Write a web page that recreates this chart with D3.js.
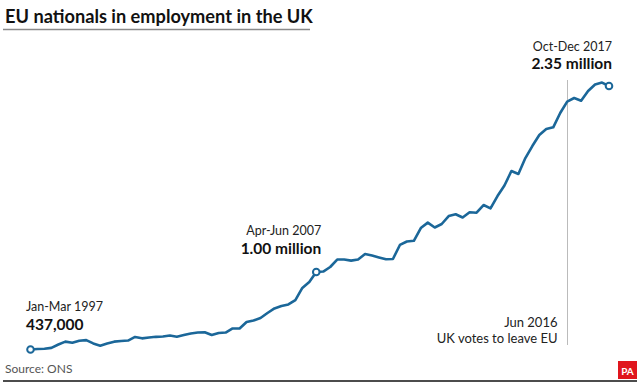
<!DOCTYPE html>
<html>
<head>
<meta charset="utf-8">
<script src="https://cdn.jsdelivr.net/npm/d3@7"></script>
<style>
  body { margin: 0; background: #fff; }
  svg { display: block; font-family: Lato, "Open Sans", sans-serif; }
</style>
</head>
<body>
<div id="chart"></div>
<script>
// EU nationals in UK employment, thousands, quarterly Jan-Mar 1997 .. Oct-Dec 2017
const startYear = 1997;
const values = [
  437, 441, 442, 449, 473, 494, 486, 501, 505, 481,
  465, 481, 494, 499, 502, 528, 518, 524, 529, 531,
  539, 530, 542, 553, 560, 562, 542, 557, 560, 590,
  590, 637, 648, 666, 702, 735, 753, 764, 796, 884,
  927, 1000, 1003, 1036, 1090, 1090, 1082, 1090, 1130, 1119,
  1105, 1092, 1094, 1196, 1221, 1226, 1319, 1358, 1323, 1348,
  1406, 1419, 1395, 1433, 1430, 1486, 1461, 1551, 1628, 1733,
  1711, 1827, 1914, 1994, 2038, 2050, 2154, 2237, 2263, 2243,
  2314, 2361, 2375, 2350
];
const highlights = [
  { i: 0, period: "Jan-Mar 1997", label: "437,000", anchor: "start", dx: -4.5, dy: -20 },
  { i: 41, period: "Apr-Jun 2007", label: "1.00 million", anchor: "end", dx: 5, dy: -18 },
  { i: 83, period: "Oct-Dec 2017", label: "2.35 million", anchor: "end", dx: 3, dy: -17 }
];
const voteIndex = 77; // Apr-Jun 2016
const voteLines = ["Jun 2016", "UK votes to leave EU"];

const W = 640, H = 384;
const blue = "#1b6799";

const svg = d3.select("#chart").append("svg")
  .attr("width", W)
  .attr("height", H);

const x = d3.scaleLinear().domain([0, values.length - 1]).range([30.5, 609]);
const y = d3.scaleLinear().domain([437, 2350]).range([349.5, 86]);

// title
svg.append("text")
  .attr("x", 5).attr("y", 23)
  .style("font-size", "18.2px").style("font-weight", 700).style("fill", "#111")
  .text("EU nationals in employment in the UK");
svg.append("line")
  .attr("x1", 3).attr("x2", 310).attr("y1", 29.5).attr("y2", 29.5)
  .style("stroke", "#8a8a8a").style("stroke-width", 1.5);

// referendum marker
const vx = Math.round(x(voteIndex)) + 0.5;
svg.append("line")
  .attr("x1", vx).attr("x2", vx).attr("y1", 80).attr("y2", 345)
  .style("stroke", "#bbb").style("stroke-width", 1);
svg.append("g").selectAll("text")
  .data(voteLines)
  .enter().append("text")
  .attr("x", vx - 10)
  .attr("y", (d, i) => 327 + i * 16)
  .attr("text-anchor", "end")
  .style("font-size", "13px").style("fill", "#222")
  .text(d => d);

// line
const line = d3.line()
  .x((d, i) => x(i))
  .y(d => y(d));
svg.append("path")
  .datum(values)
  .attr("d", line)
  .style("fill", "none")
  .style("stroke", blue)
  .style("stroke-width", 2.6)
  .style("stroke-linejoin", "round");

// highlighted points
const hl = svg.append("g").selectAll("g")
  .data(highlights)
  .enter().append("g");
hl.append("circle")
  .attr("cx", d => x(d.i))
  .attr("cy", d => y(values[d.i]))
  .attr("r", 3.3)
  .style("fill", "#fff")
  .style("stroke", blue)
  .style("stroke-width", 2);
hl.append("text")
  .attr("x", d => x(d.i) + d.dx)
  .attr("y", d => y(values[d.i]) + d.dy - 18.5)
  .attr("text-anchor", d => d.anchor)
  .style("font-size", "12.5px").style("fill", "#222")
  .text(d => d.period);
hl.append("text")
  .attr("x", d => x(d.i) + d.dx)
  .attr("y", d => y(values[d.i]) + d.dy)
  .attr("text-anchor", d => d.anchor)
  .style("font-size", "15.5px").style("font-weight", 700).style("fill", "#111")
  .text(d => d.label);

// footer
svg.append("text")
  .attr("x", 5).attr("y", 373)
  .style("font-size", "12px").style("fill", "#555")
  .text("Source: ONS");
svg.append("line")
  .attr("x1", 3).attr("x2", 637).attr("y1", 381).attr("y2", 381)
  .style("stroke", "#111").style("stroke-width", 1.5);
svg.append("rect")
  .attr("x", 618).attr("y", 361).attr("width", 19).attr("height", 18)
  .style("fill", "#e0161d");
svg.append("text")
  .attr("x", 627.5).attr("y", 374.5)
  .attr("text-anchor", "middle")
  .style("font-size", "10px").style("font-weight", 700).style("fill", "#fff")
  .text("PA");
</script>
</body>
</html>
